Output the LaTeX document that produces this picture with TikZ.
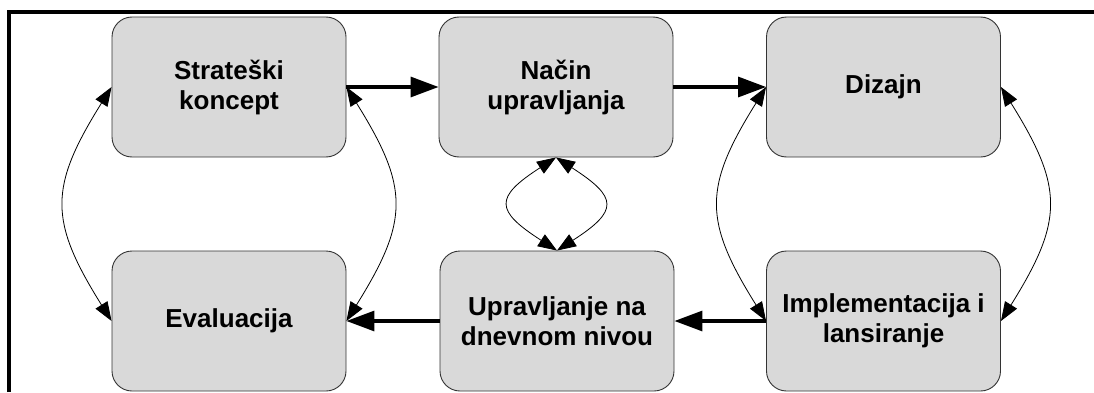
\documentclass[tikz,border=0pt]{standalone}
\usepackage{fontspec}
\setmainfont{Liberation Sans}
\usetikzlibrary{arrows.meta}

\tikzset{
  stage/.style={draw=black!80, line width=0.9pt, fill=black!15, rounded corners=20pt,
    minimum width=234pt, minimum height=140pt, inner sep=0pt, align=center,
    font=\fontsize{26}{30}\selectfont\bfseries},
  flow/.style={line width=3.2pt, -{Triangle[length=28pt,width=20pt]}},
  loop/.style={line width=0.8pt, {Triangle[length=19pt,width=14pt]}-{Triangle[length=19pt,width=14pt]}},
  frame/.style={line width=3.8pt, line join=miter}
}

\begin{document}
\begin{tikzpicture}[x=1pt, y=1pt]
  \useasboundingbox (0,0) rectangle (1094,392);

  % partial outer frame (left and top edges)
  \draw[frame] (9.3,0) -- (9.3,380) -- (1094,380);

  % process stages
  \node[stage] (S) at (229,305)   {Strateški\\koncept};
  \node[stage] (N) at (556,305)   {Način\\upravljanja};
  \node[stage] (D) at (883.5,305) {Dizajn};
  \node[stage] (E) at (229,71)    {Evaluacija};
  \node[stage] (U) at (557,71)    {Upravljanje na\\dnevnom nivou};
  \node[stage] (I) at (883.5,71)  {Implementacija i\\lansiranje};

  % main flow
  \draw[flow] (S.east) -- (N.west);
  \draw[flow] (N.east) -- (D.west);
  \draw[flow] (I.west) -- (U.east);
  \draw[flow] (U.west) -- (E.east);

  % feedback loops
  \draw[loop] (S.west)  to[out=238, in=122, looseness=1.3] (E.west);
  \draw[loop] (S.east)  to[out=302, in=58,  looseness=1.3] (E.east);
  \draw[loop] (D.west)  to[out=238, in=122, looseness=1.3] (I.west);
  \draw[loop] (D.east)  to[out=302, in=58,  looseness=1.3] (I.east);
  \draw[loop] (N.south) .. controls +(-62,-40) and +(-62,40) .. (U.north);
  \draw[loop] (N.south) .. controls +(62,-40) and +(62,40) .. (U.north);
\end{tikzpicture}
\end{document}
